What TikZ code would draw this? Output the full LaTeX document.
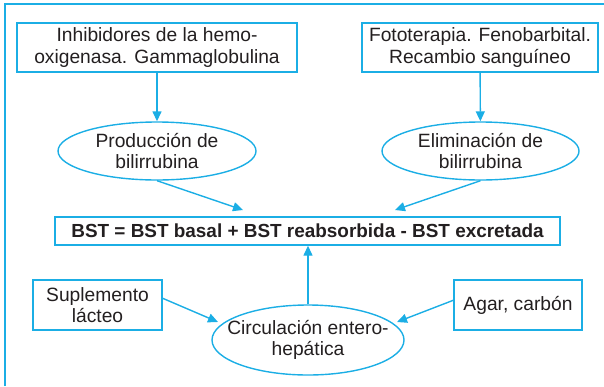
\documentclass[tikz,border=0pt]{standalone}
\usepackage{fontspec}
\setmainfont{Liberation Sans}
\usetikzlibrary{shapes.geometric,arrows.meta}
\definecolor{cy}{RGB}{27,174,229}
\definecolor{ink}{RGB}{35,31,32}
\begin{document}
\begin{tikzpicture}[x=1bp,y=-1bp,
 line/.style={draw=cy,line width=1.4bp},
 arr/.style={line, -{Triangle[length=10bp,width=9bp]}},
 rbox/.style={line, rectangle, inner sep=0, align=center, text=ink, font=\fontsize{19.3}{21.5}\selectfont},
 ell/.style={line, ellipse, inner sep=0},
 txt/.style={inner sep=0, align=center, text=ink, font=\fontsize{19.3}{21.5}\selectfont}]
\useasboundingbox (0,0) rectangle (604,386);
\draw[line] (5,386) -- (5,4) -- (604,4);
% top boxes
\node[rbox, minimum width=280bp, minimum height=49bp] (b1) at (157,47.5) {Inhibidores de la hemo-\\oxigenasa. Gammaglobulina};
\node[rbox, minimum width=236bp, minimum height=49bp] (b2) at (480,47.5) {Fototerapia. Fenobarbital.\\Recambio sanguíneo};
% ellipses
\node[ell, minimum width=198bp, minimum height=58bp] (e1) at (157,151) {};
\node[txt] (t1) at (e1) {Producción de\\bilirrubina};
\node[ell, minimum width=197bp, minimum height=58bp] (e2) at (480.5,151) {};
\node[txt] (t2) at (e2) {Eliminación de\\bilirrubina};
% formula
\node[rbox, minimum width=505bp, minimum height=28bp, font=\bfseries\fontsize{19}{22}\selectfont] (bst) at (307.5,231) {BST = BST basal + BST reabsorbida - BST excretada};
% bottom
\node[rbox, minimum width=129bp, minimum height=50bp] (s) at (97.5,305) {Suplemento\\lácteo};
\node[rbox, minimum width=128bp, minimum height=50bp] (ag) at (518,305) {Agar, carbón};
\node[ell, minimum width=192bp, minimum height=70bp] (e3) at (308,340) {};
\node[txt] (t3) at (e3) {Circulación entero-\\hepática};
% connectors
\coordinate (p1) at (243,210);
\coordinate (p2) at (395,210);
\coordinate (a3) at (162,298);
\coordinate (p3) at (218,322);
\coordinate (a4) at (454,300);
\coordinate (p4) at (397,322);
\draw[arr] (b1) -- (e1);
\draw[arr] (b2) -- (e2);
\draw[arr] (e1.south) -- (p1);
\draw[arr] (e2.south) -- (p2);
\draw[arr] (e3.north) -- (bst.south -| e3.north);
\draw[arr] (a3) -- (p3);
\draw[arr] (a4) -- (p4);
\end{tikzpicture}
\end{document}
